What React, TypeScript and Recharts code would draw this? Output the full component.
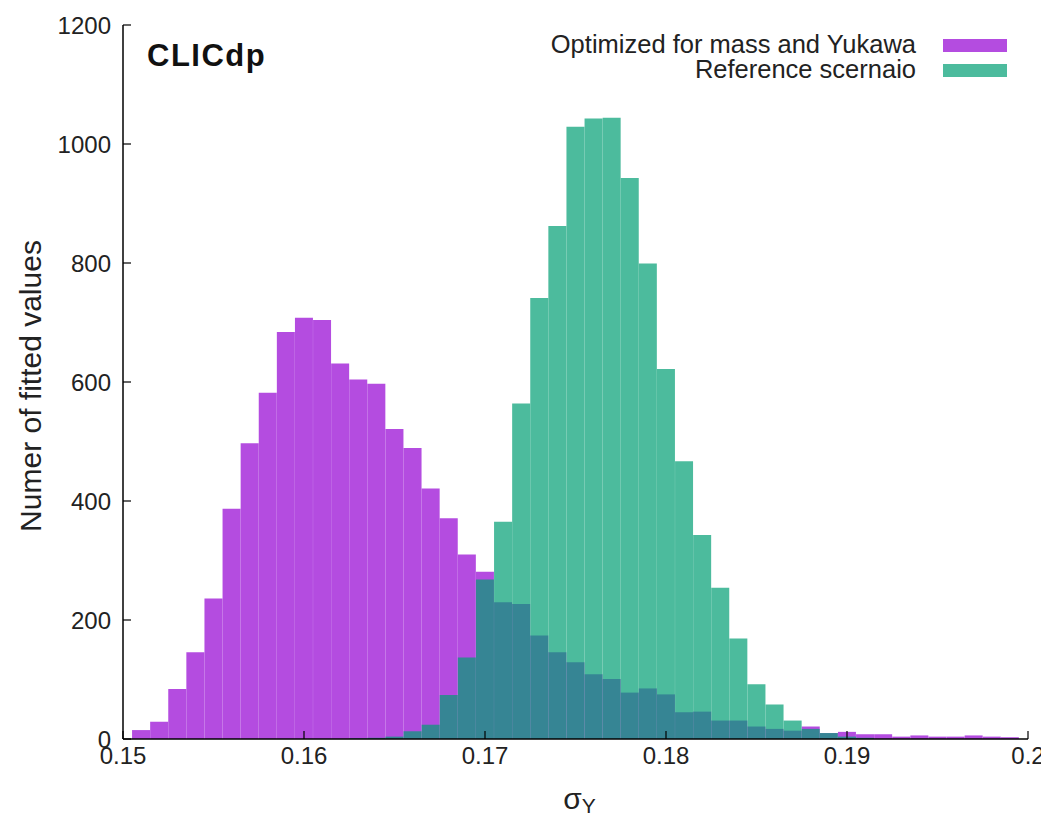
import React from "react";
import { BarChart, Bar, XAxis, YAxis, Legend, Label } from "recharts";

// bin centres of the sigma_Y histogram
const binCenters = [
  0.151, 0.152, 0.153, 0.154, 0.155, 0.156, 0.157, 0.158, 0.159, 0.16,
  0.161, 0.162, 0.163, 0.164, 0.165, 0.166, 0.167, 0.168, 0.169, 0.17,
  0.171, 0.172, 0.173, 0.174, 0.175, 0.176, 0.177, 0.178, 0.179, 0.18,
  0.181, 0.182, 0.183, 0.184, 0.185, 0.186, 0.187, 0.188, 0.189, 0.19,
  0.191, 0.192, 0.193, 0.194, 0.195, 0.196, 0.197, 0.198, 0.199,
];

const optimizedCounts = [
  15, 29, 84, 146, 236, 387, 497, 582, 684, 708,
  704, 631, 604, 597, 521, 489, 421, 371, 310, 281,
  230, 227, 174, 146, 129, 109, 101, 78, 85, 75,
  45, 46, 31, 31, 21, 17, 14, 21, 10, 12,
  8, 8, 4, 6, 4, 4, 6, 4, 3,
];

const referenceCounts = [
  0, 0, 0, 0, 0, 0, 0, 0, 0, 0,
  0, 0, 1, 2, 4, 13, 24, 74, 137, 268,
  365, 564, 741, 862, 1029, 1043, 1044, 943, 799, 622,
  467, 343, 254, 169, 92, 58, 31, 17, 10, 4,
  2, 0, 0, 0, 0, 0, 0, 0, 0,
];

const xTicks = [0.15, 0.16, 0.17, 0.18, 0.19, 0.2];
const yTicks = [0, 200, 400, 600, 800, 1000, 1200];

const seriesNames = ["Optimized for mass and Yukawa", "Reference scernaio"];
const PURPLE = "#9400D3";
const TEAL = "#009E73";

const FONT = "'Liberation Sans', Arial, Helvetica, sans-serif";

const data = binCenters.map((x, i) => ({
  x,
  optimized: optimizedCounts[i],
  reference: referenceCounts[i],
}));

const LegendBox = () => (
  <div style={{ fontFamily: FONT, fontSize: 25.5, color: "#222" }}>
    {seriesNames.map((name, i) => (
      <div key={name} style={{ display: "flex", justifyContent: "flex-end", lineHeight: "25px", height: 25 }}>
        <span style={{ whiteSpace: "nowrap" }}>{name}</span>
        <span
          style={{
            display: "inline-block",
            width: 64,
            height: 13,
            marginTop: 7,
            marginLeft: 27,
            background: i === 0 ? PURPLE : TEAL,
            opacity: 0.7,
          }}
        />
      </div>
    ))}
  </div>
);

export default function App() {
  const tickStyle = { fontFamily: FONT, fontSize: 24, fill: "#222" };
  return (
    <div style={{ position: "relative", width: 1041, height: 810 }}>
      <BarChart
        width={1041}
        height={810}
        data={data}
        margin={{ top: 17, right: 21, bottom: 0, left: 0 }}
        barCategoryGap={0}
        barGap={0}
      >
        <XAxis
          xAxisId="p"
          dataKey="x"
          type="number"
          domain={[0.15, 0.2]}
          ticks={xTicks}
          allowDataOverflow
          height={79}
          stroke="#000"
          axisLine={{ stroke: "#000", strokeWidth: 1.5 }}
          tickLine={{ stroke: "#000", strokeWidth: 1.2 }}
          tickSize={-8}
          tickMargin={16}
          tick={tickStyle}
        >
          <Label
            content={(props: any) => {
              const vb = props.viewBox;
              return (
                <text
                  x={vb.x + vb.width / 2 + 4}
                  y={vb.y + 70}
                  textAnchor="middle"
                  fontFamily={FONT}
                  fill="#222"
                >
                  <tspan fontSize={30}>σ</tspan>
                  <tspan fontSize={21} dy={4}>Y</tspan>
                </text>
              );
            }}
          />
        </XAxis>
        <XAxis
          xAxisId="t"
          dataKey="x"
          type="number"
          orientation="top"
          domain={[0.15, 0.2]}
          ticks={xTicks}
          allowDataOverflow
          height={0}
          axisLine={{ stroke: "#000", strokeWidth: 1.5 }}
          tickLine={{ stroke: "#000", strokeWidth: 1.2 }}
          tickSize={-8}
          tick={false}
        />
        <YAxis
          yAxisId="l"
          type="number"
          domain={[0, 1200]}
          ticks={yTicks}
          allowDataOverflow
          width={115}
          axisLine={{ stroke: "#000", strokeWidth: 1.5 }}
          tickLine={{ stroke: "#000", strokeWidth: 1.2 }}
          tickSize={-8}
          tickMargin={20}
          tick={tickStyle}
        >
          <Label
            content={(props: any) => {
              const vb = props.viewBox;
              const cx = vb.x + 33;
              const cy = vb.y + vb.height / 2 + 4;
              return (
                <text
                  x={cx}
                  y={cy}
                  transform={`rotate(-90 ${cx} ${cy})`}
                  textAnchor="middle"
                  fontFamily={FONT}
                  fontSize={30}
                  fill="#222"
                >
                  Numer of fitted values
                </text>
              );
            }}
          />
        </YAxis>
        <YAxis
          yAxisId="r"
          orientation="right"
          type="number"
          domain={[0, 1200]}
          ticks={yTicks}
          allowDataOverflow
          width={0}
          axisLine={{ stroke: "#000", strokeWidth: 1.5 }}
          tickLine={{ stroke: "#000", strokeWidth: 1.2 }}
          tickSize={-8}
          tick={false}
        />
        <Bar
          xAxisId="p"
          yAxisId="l"
          dataKey="optimized"
          name={seriesNames[0]}
          fill={PURPLE}
          fillOpacity={0.7}
          isAnimationActive={false}
        />
        <Bar
          xAxisId="t"
          yAxisId="l"
          dataKey="reference"
          name={seriesNames[1]}
          fill={TEAL}
          fillOpacity={0.7}
          isAnimationActive={false}
        />
        <Legend
          layout="vertical"
          align="center"
          verticalAlign="middle"
          content={() => <LegendBox />}
          wrapperStyle={{ top: 24, left: "auto", right: 42, width: "auto", height: "auto" }}
        />
      </BarChart>
      <div
        style={{
          position: "absolute",
          left: 139,
          top: 31,
          fontFamily: FONT,
          fontWeight: "bold",
          fontSize: 31,
          letterSpacing: 1.5,
          color: "#111",
          lineHeight: "34px",
        }}
      >
        CLICdp
      </div>
    </div>
  );
}
